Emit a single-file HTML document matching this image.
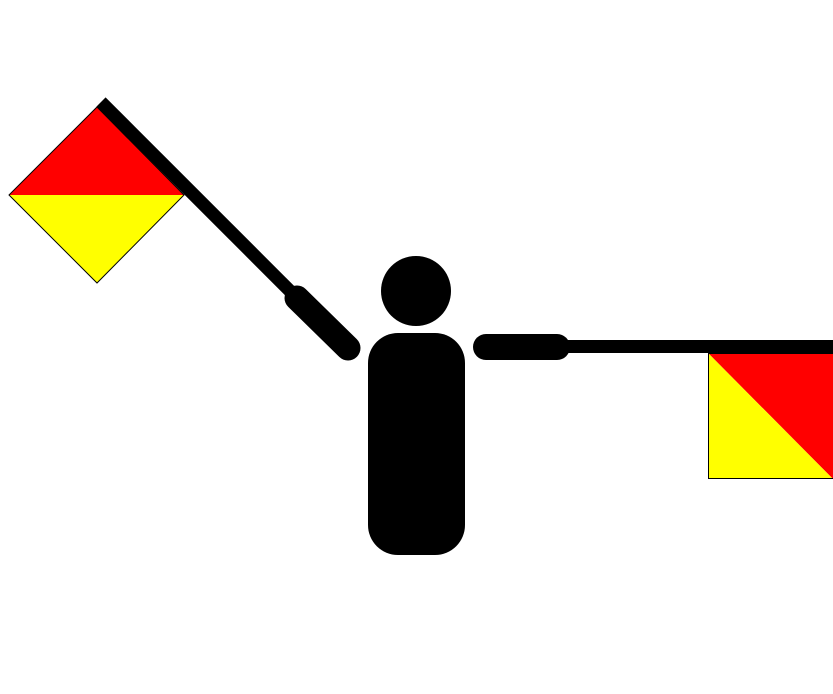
<!DOCTYPE html>
<html><head><style>html,body{margin:0;padding:0;background:#fff}svg{display:block}</style></head>
<body>
<svg width="833" height="694" viewBox="0 0 833 694" xmlns="http://www.w3.org/2000/svg">
<rect width="833" height="694" fill="#fff"/>
<!-- left pole -->
<line x1="101" y1="102" x2="305" y2="306" stroke="#000" stroke-width="13"/>
<!-- left flag -->
<polygon points="97,107 184,195 9,195" fill="#f00"/>
<polygon points="9,195 184,195 97,283" fill="#ff0"/>
<polygon points="97,107 184,195 97,283 9,195" fill="none" stroke="#000" stroke-width="1"/>
<!-- left arm -->
<line x1="297" y1="298" x2="348" y2="348" stroke="#000" stroke-width="25" stroke-linecap="round"/>
<!-- head -->
<circle cx="416" cy="291" r="35" fill="#000"/>
<!-- body -->
<rect x="368" y="333" width="97" height="222" rx="30" fill="#000"/>
<!-- right arm -->
<line x1="486" y1="347" x2="557" y2="347" stroke="#000" stroke-width="26" stroke-linecap="round"/>
<!-- right pole -->
<rect x="557" y="340" width="276" height="13" fill="#000"/>
<!-- right flag -->
<polygon points="708,353 833,353 833,479" fill="#f00"/>
<polygon points="708,353 833,479 708,479" fill="#ff0"/>
<rect x="708.5" y="353.5" width="130" height="125" fill="none" stroke="#000" stroke-width="1"/>
</svg>
</body></html>
